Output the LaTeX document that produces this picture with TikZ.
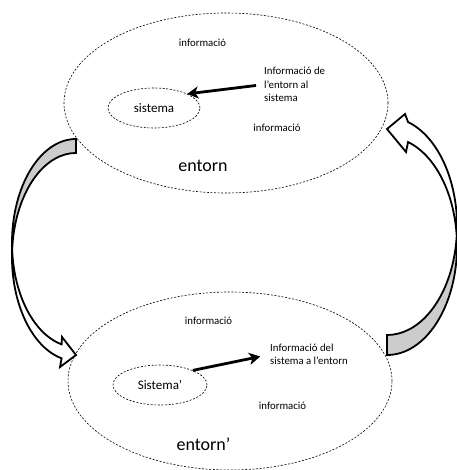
\documentclass[tikz,border=0pt]{standalone}
\usepackage{fontspec}
\setmainfont{Carlito}
\usetikzlibrary{arrows.meta,shapes.geometric}

% outlines of the two curved block arrows (pixel-like units, y pointing down)
\newcommand\leftbandpath{(76,139) arc[start angle=270, end angle=103, x radius=64, y radius=104]
  -- (62,337) -- (76,355) -- (60,367) -- (61.6,358.3)
  arc[start angle=103, end angle=270, x radius=64, y radius=104] -- cycle}
\newcommand\leftbandback{(76,139) arc[start angle=270, end angle=176.14, x radius=64, y radius=104]
  arc[start angle=183.86, end angle=270, x radius=64, y radius=104] -- cycle}
\newcommand\rightbandpath{(387,355) arc[start angle=90, end angle=-72.5, x radius=70, y radius=109]
  -- (406,152) -- (387,129) -- (405,114) -- (408.05,122.05)
  arc[start angle=-72.5, end angle=90, x radius=70, y radius=109] -- cycle}
\newcommand\rightbandback{(387,355) arc[start angle=90, end angle=-5.26, x radius=70, y radius=109]
  arc[start angle=5.26, end angle=90, x radius=70, y radius=109] -- cycle}

\begin{document}
\begin{tikzpicture}[x=1pt,y=-1pt,
  region/.style={ellipse, draw, dash pattern=on 2pt off 1.6pt, line width=0.6pt, inner sep=0pt},
  lbl/.style={font=\fontsize{10.8}{13.5}\selectfont, inner sep=0pt},
  midtext/.style={font=\fontsize{13}{15}\selectfont},
  bigtext/.style={font=\fontsize{18}{20}\selectfont, inner sep=0pt},
  info/.style={line width=2.8pt, -{Stealth[length=11pt,width=12pt,inset=3pt]}},
  band/.style={draw, line width=1.8pt, line join=miter},
  bandback/.style={fill=black!20},
]
\useasboundingbox (0,0) rectangle (456,470);

% ---- first state: system inside its environment
\node[region, minimum width=324pt, minimum height=180pt] (env1) at (226,103) {};
\node[region, minimum width=92pt, minimum height=40pt, midtext] (sis1) at (154,108) {sistema};
\node[lbl] (inf1) at (202.5,43) {informació};
\node[lbl] (inf2) at (277,128) {informació};
\node[bigtext] (ent1) at (203,166) {entorn};
\node[lbl, anchor=west, align=left] (lab1) at (264,84.5) {Informació de\\l’entorn al\\sistema};
\draw[info, shorten <=8pt] (lab1.west) -- (sis1.23);

% ---- second state
\node[region, minimum width=324pt, minimum height=178pt] (env2) at (230,381) {};
\node[region, minimum width=94pt, minimum height=40pt, midtext] (sis2) at (160,385) {Sistema’};
\node[lbl] (inf3) at (208.5,321) {informació};
\node[lbl] (inf4) at (282.5,405.7) {informació};
\node[bigtext] (ent2) at (203.5,444) {entorn’};
\node[lbl, anchor=west, align=left] (lab2) at (270,354.5) {Informació del\\sistema a l’entorn};
\draw[info, shorten >=10pt] (sis2.24) -- (lab2.west);

% ---- curved block arrows between the two states
\fill[white] \leftbandpath;
\fill[bandback] \leftbandback;
\path[band] \leftbandpath;

\fill[white] \rightbandpath;
\fill[bandback] \rightbandback;
\path[band] \rightbandpath;
\end{tikzpicture}
\end{document}
